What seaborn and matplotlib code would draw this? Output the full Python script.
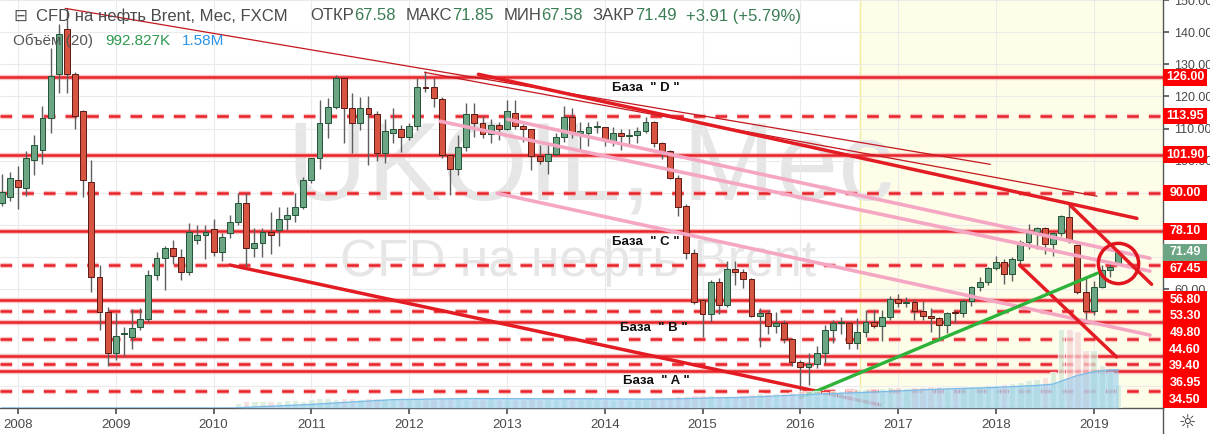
import numpy as np
import pandas as pd
import matplotlib
matplotlib.use("Agg")
import matplotlib.pyplot as plt
from matplotlib.patches import Rectangle
from matplotlib.transforms import blended_transform_factory
import seaborn as sns

sns.set_theme(style="white")
plt.rcParams['font.family'] = ['Liberation Sans', 'DejaVu Sans']
plt.rcParams['lines.scale_dashes'] = False

W, H = 1210, 434

# month index 0 = Jan 2008, candles run from Nov 2007 to Apr 2019
first_month = -2
years = list(range(2008, 2020))

open_ = [87.0, 88.7,
         94.0, 91.5, 100.1, 103.3, 113.2, 127.0, 141.0, 127.0, 115.4, 93.3, 64.0, 53.0,
         40.2, 46.0, 45.2, 48.4, 50.8, 64.4, 69.8, 72.9, 70.0, 65.5, 75.5, 76.8,
         78.7, 71.5, 77.5, 81.0, 86.8, 73.0, 74.5, 77.8, 78.4, 82.0, 83.0, 85.5,
         94.0, 100.8, 111.6, 116.6, 125.6, 116.3, 111.6, 116.3, 114.4, 102.3, 108.8, 110.0,
         107.3, 110.7, 122.8, 122.8, 119.1, 101.7, 97.3, 104.2, 114.7, 111.6, 108.2, 111.0,
         110.0, 115.0, 110.7, 109.8, 101.4, 99.8, 102.0, 107.3, 113.5, 108.8, 108.8, 110.4,
         110.4, 105.7, 108.8, 107.8, 108.0, 109.4, 112.0, 105.4, 102.9, 94.5, 85.9, 71.3,
         56.6, 52.3, 62.2, 55.1, 66.5, 65.3, 63.2, 51.7, 52.7, 48.6, 49.5, 44.5,
         37.4, 35.9, 36.8, 40.2, 47.3, 49.5, 49.5, 43.3, 46.8, 49.8, 48.6, 51.3,
         57.0, 55.7, 56.0, 53.3, 51.7, 51.0, 48.9, 52.9, 52.6, 56.4, 60.7, 62.2,
         66.6, 68.5, 64.7, 69.1, 74.7, 77.8, 79.0, 74.1, 77.5, 82.4, 73.7, 59.1,
         53.2, 60.7, 66.2, 67.58]
high = [96.0, 96.5,
        98.5, 103.0, 108.0, 117.0, 135.0, 142.5, 147.5, 127.5, 115.8, 100.1, 67.5, 54.5,
        52.6, 48.3, 53.8, 54.2, 66.0, 71.5, 73.5, 75.5, 72.5, 80.6, 80.0, 80.0,
        82.0, 77.5, 83.0, 90.0, 90.0, 79.0, 79.0, 84.0, 85.5, 85.5, 90.0, 95.0,
        101.0, 119.0, 119.4, 126.6, 126.0, 121.0, 119.7, 120.0, 115.5, 113.0, 116.3, 111.0,
        111.6, 125.6, 128.0, 125.6, 119.7, 102.0, 108.0, 117.9, 117.9, 114.0, 113.0, 112.0,
        119.0, 119.0, 111.5, 110.0, 105.0, 106.0, 108.5, 117.0, 116.5, 112.0, 112.0, 112.5,
        110.5, 110.5, 110.0, 110.0, 110.5, 113.5, 112.5, 106.0, 103.5, 95.7, 86.5, 72.5,
        57.0, 63.0, 63.5, 69.0, 69.0, 66.5, 63.5, 54.1, 53.5, 53.0, 50.5, 45.0,
        38.0, 40.2, 42.5, 48.9, 50.5, 51.5, 50.0, 51.0, 53.5, 53.5, 53.5, 58.0,
        58.5, 57.5, 57.0, 56.5, 54.1, 51.4, 53.0, 53.5, 57.0, 61.0, 64.0, 67.0,
        70.5, 69.5, 70.0, 75.5, 80.5, 79.5, 79.5, 78.0, 83.0, 86.5, 74.0, 63.8,
        62.5, 67.5, 68.5, 71.85]
low = [86.0, 87.5,
       85.0, 89.0, 95.5, 99.0, 108.5, 121.0, 121.0, 110.0, 88.6, 59.3, 47.4, 36.2,
       38.0, 39.2, 41.6, 47.3, 50.0, 63.0, 59.8, 68.0, 63.0, 64.5, 74.0, 69.5,
       70.5, 69.0, 76.0, 80.0, 67.0, 70.0, 70.0, 71.0, 73.5, 78.5, 81.0, 85.0,
       93.0, 97.6, 107.0, 116.0, 105.4, 102.3, 109.5, 98.6, 100.0, 99.2, 105.4, 102.6,
       106.4, 109.5, 121.3, 116.6, 101.0, 89.3, 95.5, 103.0, 107.3, 107.0, 105.5, 106.5,
       109.5, 110.0, 106.0, 97.0, 99.0, 96.0, 101.5, 106.0, 107.0, 103.3, 104.5, 108.5,
       104.5, 104.5, 103.5, 104.5, 105.5, 108.5, 104.2, 100.5, 94.2, 82.9, 69.5, 55.5,
       45.2, 50.0, 52.5, 54.5, 61.5, 60.5, 51.5, 42.1, 46.0, 46.5, 43.5, 36.2,
       27.8, 30.3, 35.5, 37.0, 43.5, 46.0, 41.5, 41.5, 45.2, 48.0, 43.9, 50.5,
       54.5, 54.5, 50.5, 50.5, 46.7, 44.9, 46.5, 49.5, 51.5, 55.0, 59.5, 61.5,
       66.0, 61.8, 62.5, 67.0, 72.5, 72.5, 71.0, 70.5, 76.5, 74.5, 58.5, 50.5,
       52.0, 60.5, 63.8, 67.58]
close = [90.2, 94.6,
         92.0, 100.8, 104.8, 113.2, 126.5, 139.5, 127.1, 113.8, 94.0, 64.0, 53.0, 40.2,
         45.4, 46.4, 48.0, 50.7, 64.4, 69.8, 72.9, 70.5, 65.5, 77.9, 76.9, 77.8,
         71.5, 76.2, 80.9, 87.0, 73.0, 74.5, 77.8, 76.8, 82.0, 83.0, 85.5, 94.0,
         100.8, 111.6, 116.6, 125.6, 116.3, 111.6, 116.3, 114.4, 102.3, 109.2, 110.0, 107.3,
         110.7, 122.8, 122.6, 119.4, 101.7, 97.3, 104.2, 114.7, 111.6, 108.2, 111.0, 110.0,
         115.4, 110.7, 109.8, 101.4, 99.8, 102.0, 107.3, 113.5, 108.8, 109.3, 110.4, 110.6,
         106.7, 108.8, 107.6, 108.1, 109.4, 112.0, 105.4, 102.6, 94.5, 85.6, 71.3, 56.1,
         52.3, 62.2, 55.1, 66.5, 65.3, 63.2, 51.7, 52.7, 48.6, 49.5, 44.5, 37.4,
         35.9, 36.8, 40.2, 47.3, 49.5, 49.6, 43.3, 46.7, 49.8, 48.6, 51.3, 57.0,
         55.7, 56.0, 53.3, 51.7, 51.0, 48.9, 52.6, 52.6, 56.4, 60.7, 62.2, 66.6,
         68.5, 64.7, 69.4, 74.7, 77.5, 79.0, 74.1, 77.5, 82.8, 75.3, 59.1, 53.2,
         60.7, 66.2, 67.1, 71.49]
# volume in thousands (no volume reported before Apr 2010)
volume = [0, 0] + [0] * 24 + [0, 0, 0,
          200, 300, 280, 280, 300, 300, 320, 330, 300,
          380, 420, 400, 380, 420, 400, 380, 420, 400, 380, 360, 340,
          360, 380, 400, 380, 420, 440, 400, 380, 360, 380, 400, 360,
          380, 360, 380, 400, 380, 360, 380, 400, 380, 360, 380, 360,
          360, 340, 360, 340, 360, 380, 400, 420, 440, 480, 520, 560,
          560, 540, 520, 500, 520, 560, 600, 640, 600, 620, 640, 680,
          700, 720, 700, 680, 700, 720, 760, 780, 800, 820, 840, 860,
          860, 840, 860, 880, 900, 920, 880, 860, 880, 900, 920, 940,
          960, 1000, 1050, 1100, 1150, 1200, 1300, 1500, 3300, 3300, 3200, 2400,
          2400, 1800, 1500, 993]

levels = [126.00, 113.95, 101.90, 90.00, 78.10, 67.45, 56.80, 53.30, 49.80,
          44.60, 39.40, 36.95, 34.50, 28.40]
level_dashed = [False, True, False, True, False, True, False, True, False,
                True, False, True, False, True]
last_price = 71.49
# price ticks whose labels stay readable beside the level tags
labelled_ticks = [60, 100, 110, 120, 130, 140, 150]

# hand-drawn trend lines: (month, price) end points
thin_lines = [([5.8, 119.3], [147.4, 98.9]), ([49.9, 132.4], [127.5, 89.0])]
thick_red = [([56.5, 137.3], [126.9, 82.1]), ([26.0, 105.8], [67.6, 24.1]),
             ([129.1, 139.1], [86.2, 61.6]), ([122.9, 134.8], [67.6, 39.0])]
pink_lines = [([60.1, 138.9], [112.9, 69.7]), ([51.8, 138.9], [112.3, 65.7]),
              ([58.8, 138.9], [89.9, 45.8])]
green_line = ([96.0, 132.5], [26.3, 65.1])
circle_at = (135.0, 68.1)

bases = ['База  " D "', 'База  " C "', 'База  " B "', 'База  " A "']
base_pos = [(77.0, 122.5), (77.0, 74.7), (78.0, 48.0), (78.3, 31.5)]

months = np.arange(first_month, first_month + len(close))
df = pd.DataFrame({'m': months, 'o': open_, 'h': high, 'l': low, 'c': close, 'v': volume})
df['up'] = df['c'] >= df['o']
df['vma'] = df['v'].rolling(20, min_periods=1).mean()

XMIN, XMAX = -2.21, 140.5
YMIN, YMAX = 23.14, 149.84

fig = plt.figure(figsize=(W / 100, H / 100), dpi=100)
rect = [0, 26 / H, 1163 / W, 408 / H]
ax_vol = fig.add_axes(rect)
ax = fig.add_axes(rect, sharex=ax_vol)
ax.patch.set_visible(False)

# ---- background, watermark and volume (lower axes)
ax_vol.set_facecolor('white')
ax_vol.axvspan(103.3, XMAX, color='#fdfde8', zorder=0)
ax_vol.axvline(103.3, color='#f1ec9c', lw=1, zorder=1)
ax_vol.text(70.2, 97.0, 'UKOIL, Мес', fontsize=80, color='#e6e6e6',
            ha='center', va='center', zorder=1)
ax_vol.text(68.7, 68.3, 'CFD на нефть Brent', fontsize=37, color='#e6e6e6',
            ha='center', va='center', zorder=1)
ax_vol.set_ylim(YMIN, YMAX)

ax_v2 = ax_vol.twinx()
vol_cols = np.where(df['up'], '#cfe7d2', '#f4d3d3')
ax_v2.bar(df['m'], df['v'], width=0.8, color=vol_cols, alpha=0.7, zorder=2)
ax_v2.fill_between(df['m'], 0, df['vma'], color='#8ecbf0', alpha=0.55, lw=0, zorder=3)
sns.lineplot(x=df['m'], y=df['vma'], ax=ax_v2, color='#7bbce8', lw=1, zorder=4)
ax_v2.set_ylim(0, 17000)
for a in (ax_vol, ax_v2):
    a.set_yticks([])
    a.set_ylabel('')
    for s in a.spines.values():
        s.set_visible(False)
ax_vol.tick_params(axis='x', bottom=False, labelbottom=False)

# ---- price axes
ax.set_xlim(XMIN, XMAX)
ax.set_ylim(YMIN, YMAX)
ax.set_xticks([12 * i for i in range(len(years))])
ax.set_xticklabels([str(y) for y in years])
ax.set_yticks(np.arange(30, 151, 10))
ax.yaxis.set_major_formatter(
    plt.FuncFormatter(lambda v, p: f'{v:.2f}' if round(v) in labelled_ticks else ''))
ax.yaxis.tick_right()
ax.grid(True, color='#ebebeb', lw=0.8, zorder=0)
ax.tick_params(axis='x', bottom=True, length=4, color='#555555', labelsize=9.5,
               labelcolor='#4a4a4a', pad=4)
ax.tick_params(axis='y', right=True, length=4, color='#555555', labelsize=9,
               labelcolor='#4a4a4a', pad=4)
for side in ('top', 'left'):
    ax.spines[side].set_visible(False)
for side in ('bottom', 'right'):
    ax.spines[side].set_color('#555555')
    ax.spines[side].set_linewidth(1)

# horizontal levels
for lv, dashed in zip(levels, level_dashed):
    ls = (0, (8.4, 7.2)) if dashed else '-'
    ax.axhline(lv, color='#f7a8a8', lw=3.8, ls=ls, alpha=0.7, zorder=2)
    ax.axhline(lv, color='#e8232a', lw=1.8, ls=ls, zorder=2.1)

# candles
body_lo = np.minimum(df['o'], df['c'])
body_h = np.maximum(np.abs(df['c'] - df['o']), 0.3)
ax.vlines(df['m'], df['l'], df['h'], color='#5e5e5e', lw=1, zorder=4)
ax.bar(df['m'], body_h, bottom=body_lo, width=0.72,
       color=np.where(df['up'], '#6ba583', '#d75442'),
       edgecolor=np.where(df['up'], '#225437', '#5b1a13'), linewidth=0.7, zorder=5)

# trend lines
for xs, ys in pink_lines:
    sns.lineplot(x=xs, y=ys, ax=ax, color='#f5a6c3', lw=2.6, zorder=6)
for xs, ys in thin_lines:
    sns.lineplot(x=xs, y=ys, ax=ax, color='#c4161c', lw=0.9, zorder=6)
for xs, ys in thick_red:
    sns.lineplot(x=xs, y=ys, ax=ax, color='#e31b23', lw=2.5, zorder=6)
sns.lineplot(x=green_line[0], y=green_line[1], ax=ax, color='#2db23a', lw=2.4, zorder=6)
ax.plot(*circle_at, marker='o', ms=29, mfc='none', mec='#e0141c', mew=2.5, zorder=7)

for txt, (mx, py) in zip(bases, base_pos):
    ax.text(mx, py, txt, fontsize=9.5, fontweight='bold', color='#111111',
            ha='center', va='center', zorder=8)

# right-hand price labels, stacked like the platform does
trans = blended_transform_factory(ax.transAxes, ax.transData)
box_w = 44 / 1163
box_h = 16.7 / 3.22
tags = sorted([(v, '#ff0000') for v in levels[:-1]] + [(last_price, '#6ba583')],
              key=lambda t: -t[0])
prev = None
for val, col in tags:
    ypos = val if prev is None else min(val, prev - box_h)
    prev = ypos
    ax.add_patch(Rectangle((1.0, ypos - box_h / 2), box_w, box_h, transform=trans,
                           facecolor=col, edgecolor='none', clip_on=False, zorder=20))
    ax.text(1.0 + box_w / 2, ypos, f'{val:.2f}', transform=trans, ha='center',
            va='center', color='white', fontsize=9, fontweight='bold',
            clip_on=False, zorder=21)

# header lines
fig.text(13 / W, 1 - 16 / H, '⊟', fontsize=12, color='#555555', va='center',
         family=['DejaVu Sans'])
fig.canvas.draw()
renderer = fig.canvas.get_renderer()


def chain(parts, x_px, y_px, size):
    x = x_px
    for s, col, gap in parts:
        t = fig.text(x / W, 1 - y_px / H, s, fontsize=size, color=col, va='center')
        x += t.get_window_extent(renderer).width + gap


gray, val_col = '#4a4a4a', '#3a7d54'
chain([('CFD на нефть Brent, Мес, FXCM', gray, 0)], 36, 16, 12)
chain([('ОТКР', gray, 0), ('67.58', val_col, 10), ('МАКС', gray, 0), ('71.85', val_col, 10),
       ('МИН', gray, 0), ('67.58', val_col, 10), ('ЗАКР', gray, 0), ('71.49', val_col, 10),
       ('+3.91 (+5.79%)', val_col, 0)], 310, 16, 12)
chain([('Объём (20)', '#555555', 12), ('992.827K', '#2e9a4e', 12), ('1.58M', '#2a93e6', 0)],
      13, 41, 11)

# right panel divider and settings glyph
fig.add_artist(plt.Line2D([1163 / W, 1163 / W], [0, 26 / H], color='#555555', lw=1))
fig.text(1187 / W, 1 - 422 / H, '☼', fontsize=14, color='#333333', ha='center',
         va='center', family=['DejaVu Sans'])

fig.savefig('out.png', dpi=100, facecolor='white')
